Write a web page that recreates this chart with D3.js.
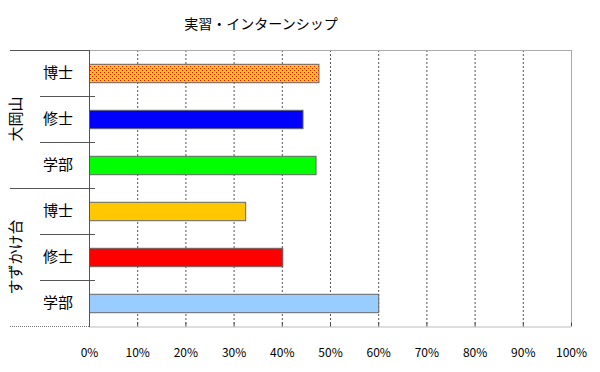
<!DOCTYPE html>
<html>
<head>
<meta charset="utf-8">
<script src="https://cdn.jsdelivr.net/npm/d3@7"></script>
<style>
  body { margin: 0; background: #fff; }
  svg { display: block; }
</style>
</head>
<body>
<div id="chart"></div>
<script>
// data
const title = "実習・インターンシップ";
const groups = ["大岡山", "すずかけ台"];
const categories = ["博士", "修士", "学部"];
const ookayamaValues = [47.6, 44.3, 47.0];
const suzukakeValues = [32.4, 40.1, 60.0];
const tickValues = [0, 10, 20, 30, 40, 50, 60, 70, 80, 90, 100];
const barColors = [
  ["url(#dots)", "#0000ff", "#00ff00"],
  ["#ffc800", "#ff0000", "#99ccff"]
];

const width = 600, height = 372;
const margin = { top: 50, right: 29, bottom: 46, left: 89 };
const font = "'Noto Sans CJK JP', sans-serif";

const svg = d3.select("#chart").append("svg")
  .attr("width", width)
  .attr("height", height);

// dotted fill for the first bar
const pat = svg.append("defs").append("pattern")
  .attr("id", "dots")
  .attr("width", 4).attr("height", 4)
  .attr("patternUnits", "userSpaceOnUse");
pat.append("rect").attr("width", 4).attr("height", 4).attr("fill", "#ffd200");
pat.append("rect").attr("x", 0).attr("y", 0).attr("width", 1).attr("height", 1).attr("fill", "#ff0000");
pat.append("rect").attr("x", 2).attr("y", 2).attr("width", 1).attr("height", 1).attr("fill", "#ff0000");

// flatten rows
const rows = [];
groups.forEach((g, gi) => {
  const vals = gi === 0 ? ookayamaValues : suzukakeValues;
  categories.forEach((c, ci) => {
    rows.push({ key: g + "-" + c, group: g, cat: c, value: vals[ci], color: barColors[gi][ci] });
  });
});

const x = d3.scaleLinear().domain([0, 100]).range([margin.left, width - margin.right]);
const y = d3.scaleBand().domain(rows.map(d => d.key))
  .range([margin.top, height - margin.bottom]).paddingInner(0.6).paddingOuter(0.3);

// title
svg.append("text")
  .attr("x", 261).attr("y", 29)
  .attr("text-anchor", "middle")
  .style("font-family", font).style("font-size", "14px").style("fill", "#000")
  .text(title);

// gridlines
svg.append("g").selectAll("line")
  .data(tickValues.slice(1))
  .join("line")
  .attr("x1", d => x(d) + 0.5).attr("x2", d => x(d) + 0.5)
  .attr("y1", margin.top).attr("y2", height - margin.bottom)
  .attr("stroke", d => d === 100 ? "#aaa" : "#555")
  .attr("stroke-dasharray", d => d === 100 ? null : "2,2");

// plot top border
svg.append("line")
  .attr("x1", x(0)).attr("x2", x(100) + 0.5)
  .attr("y1", margin.top + 0.5).attr("y2", margin.top + 0.5)
  .attr("stroke", "#aaa");

// bars
svg.append("g").selectAll("rect")
  .data(rows)
  .join("rect")
  .attr("x", x(0) + 0.5)
  .attr("y", d => y(d.key) + 0.5)
  .attr("width", d => x(d.value) - x(0))
  .attr("height", y.bandwidth())
  .attr("fill", d => d.color)
  .attr("stroke", "#666")
  .attr("stroke-width", 1);

// bottom axis
const xAxis = d3.axisBottom(x)
  .tickValues(tickValues)
  .tickFormat(d => d + "%")
  .tickSizeInner(-4).tickSizeOuter(0).tickPadding(22);
const ax = svg.append("g")
  .attr("transform", `translate(0,${height - margin.bottom + 0.5})`)
  .call(xAxis);
ax.select(".domain").attr("stroke", "#777").attr("stroke-dasharray", "1,1");
ax.selectAll(".tick line").attr("stroke", "#444");
ax.selectAll("text")
  .style("font-family", font).style("font-size", "12px").style("fill", "#000");

// left axis line
svg.append("line")
  .attr("x1", x(0) + 0.5).attr("x2", x(0) + 0.5)
  .attr("y1", margin.top).attr("y2", height - margin.bottom + 1)
  .attr("stroke", "#555");

// bottom axis extension under the labels
svg.append("line")
  .attr("x1", 10).attr("x2", x(0))
  .attr("y1", height - margin.bottom + 0.5).attr("y2", height - margin.bottom + 0.5)
  .attr("stroke", "#777").attr("stroke-dasharray", "1,1");

// category labels
svg.append("g").selectAll("text")
  .data(rows)
  .join("text")
  .attr("x", 58)
  .attr("y", d => y(d.key) + y.bandwidth() / 2)
  .attr("dy", "0.36em")
  .attr("text-anchor", "middle")
  .style("font-family", font).style("font-size", "15px").style("fill", "#000")
  .text(d => d.cat);

// separators between categories
const boundaries = d3.range(rows.length + 1).map(i => margin.top + i * (height - margin.bottom - margin.top) / rows.length);
svg.append("g").selectAll("line")
  .data(boundaries)
  .join("line")
  .attr("x1", (d, i) => i % 3 === 0 ? 10 : 40)
  .attr("x2", (d, i) => i === 0 || i === rows.length ? x(0) : 95)
  .attr("y1", d => Math.round(d) + 0.5).attr("y2", d => Math.round(d) + 0.5)
  .attr("stroke", (d, i) => i === rows.length ? "none" : "#555");

// group labels (rotated)
svg.append("g").selectAll("text")
  .data(groups)
  .join("text")
  .attr("transform", (d, i) => {
    const cy = (boundaries[i * 3] + boundaries[i * 3 + 3]) / 2;
    return `translate(16,${cy}) rotate(-90)`;
  })
  .attr("dy", "0.36em")
  .attr("text-anchor", "middle")
  .style("font-family", font).style("font-size", "15px").style("fill", "#000")
  .text(d => d);
</script>
</body>
</html>
